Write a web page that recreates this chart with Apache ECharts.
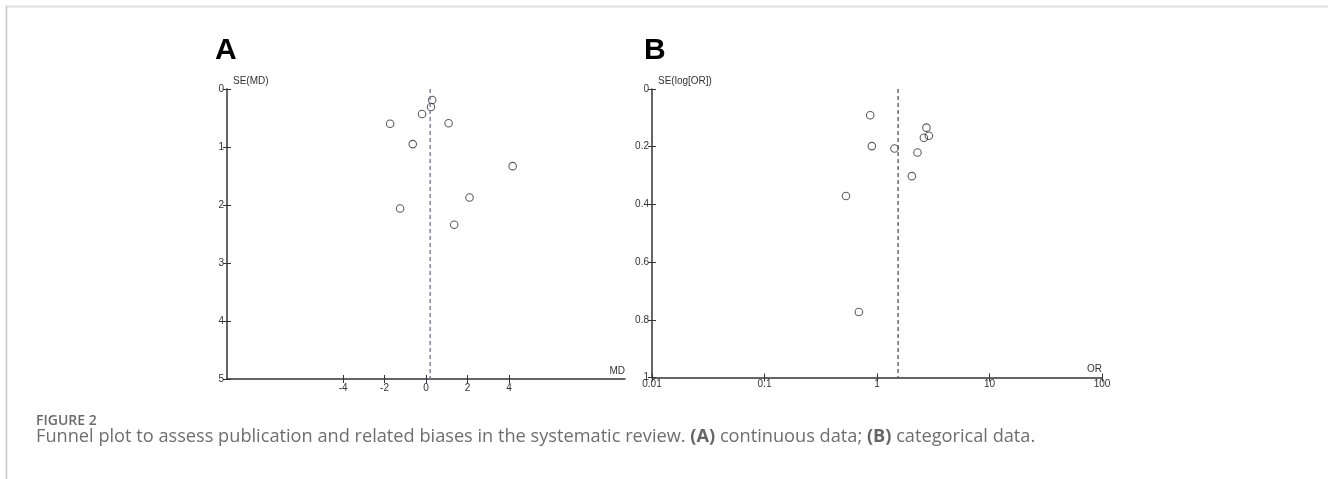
<!DOCTYPE html>
<html><head><meta charset="utf-8">
<script src="https://cdn.jsdelivr.net/npm/echarts@6/dist/echarts.min.js"></script>
<style>html,body{margin:0;padding:0;background:#fff}#c{width:1328px;height:479px}</style>
</head><body><div id="c"></div><script>
// Panel A: continuous data (MD vs SE(MD))
const mdValues = [0.30, 0.24, -0.19, -1.73, 1.09, -0.64, 4.18, 2.10, -1.25, 1.36];
const mdSE     = [0.19, 0.31, 0.43, 0.60, 0.59, 0.95, 1.33, 1.87, 2.06, 2.34];
const mdPooled = 0.2;
const mdTicks  = [-4, -2, 0, 2, 4];
const mdSETicks = [0, 1, 2, 3, 4, 5];
// Panel B: categorical data (OR vs SE(log[OR]))
const orValues = [0.87, 2.75, 2.89, 2.61, 0.90, 1.43, 2.29, 2.04, 0.53, 0.69];
const orSE     = [0.091, 0.134, 0.162, 0.169, 0.198, 0.206, 0.220, 0.302, 0.371, 0.773];
const orPooled = 1.54;
const orTicks  = ['0.01', '0.1', '1', '10', '100'];
const orSETicks = ['0', '0.2', '0.4', '0.6', '0.8', '1'];

const FONT = '"Liberation Sans", Arial, sans-serif';
const axisCol = '#333';
const lbl = {fontFamily: FONT, fontSize: 10, color: '#333'};

function yMain(grid, max, interval, name, fmt) {
  return {
    type: 'value', gridIndex: grid, inverse: true, min: 0, max: max, interval: interval, position: 'left',
    name: name, nameLocation: 'start', nameGap: 3,
    nameTextStyle: {fontFamily: FONT, fontSize: 10, color: '#333', align: 'left', verticalAlign: 'bottom', padding: [0, 0, 0, 6]},
    axisLine: {show: true, onZero: false, lineStyle: {color: axisCol, width: 1.5}},
    axisTick: {show: true, length: 4, lineStyle: {color: axisCol}},
    axisLabel: Object.assign({margin: 3, formatter: fmt}, lbl),
    splitLine: {show: false}
  };
}
function yDup(grid, max, interval) {
  return {
    type: 'value', gridIndex: grid, inverse: true, min: 0, max: max, interval: interval, position: 'left',
    axisLine: {show: false, onZero: false}, axisTick: {show: true, inside: true, length: 4, lineStyle: {color: axisCol}},
    axisLabel: {show: false}, splitLine: {show: false}
  };
}

const option = {
  animation: false,
  backgroundColor: '#fff',
  grid: [
    {left: 227, top: 89, width: 398, height: 290},
    {left: 652, top: 89, width: 450, height: 288.5}
  ],
  xAxis: [
    {
      type: 'value', gridIndex: 0, min: -9.6, max: 9.6, position: 'bottom',
      name: 'MD', nameLocation: 'end', nameGap: 0,
      nameTextStyle: {fontFamily: FONT, fontSize: 10, color: '#333', align: 'right', verticalAlign: 'bottom', padding: [0, 0, 3, 0]},
      axisLine: {show: true, onZero: false, lineStyle: {color: axisCol, width: 1.5}},
      axisTick: {show: true, length: 4, customValues: mdTicks, lineStyle: {color: axisCol}},
      axisLabel: Object.assign({margin: 4, customValues: mdTicks}, lbl),
      splitLine: {show: false}
    },
    {
      type: 'value', gridIndex: 0, min: -9.6, max: 9.6, position: 'bottom',
      axisLine: {show: false, onZero: false},
      axisTick: {show: true, inside: true, length: 4, customValues: mdTicks, lineStyle: {color: axisCol}},
      axisLabel: {show: false, customValues: mdTicks}, splitLine: {show: false}
    },
    {
      type: 'log', logBase: 10, gridIndex: 1, min: 0.01, max: 100, position: 'bottom',
      name: 'OR', nameLocation: 'end', nameGap: 0,
      nameTextStyle: {fontFamily: FONT, fontSize: 10, color: '#333', align: 'right', verticalAlign: 'bottom', padding: [0, 0, 3, 0]},
      axisLine: {show: true, onZero: false, lineStyle: {color: axisCol, width: 1.5}},
      axisTick: {show: true, length: 4, lineStyle: {color: axisCol}},
      axisLabel: Object.assign({margin: 2, formatter: function (v) {
        const k = Math.round(Math.log10(v)) + 2; return orTicks[k] !== undefined ? orTicks[k] : '';
      }}, lbl),
      splitLine: {show: false}, minorTick: {show: false}
    },
    {
      type: 'log', logBase: 10, gridIndex: 1, min: 0.01, max: 100, position: 'bottom',
      axisLine: {show: false, onZero: false},
      axisTick: {show: true, inside: true, length: 4, lineStyle: {color: axisCol}},
      axisLabel: {show: false}, splitLine: {show: false}
    }
  ],
  yAxis: [
    yMain(0, 5, 1, 'SE(MD)', function (v) { return String(mdSETicks[Math.round(v)]); }),
    yDup(0, 5, 1),
    yMain(1, 1, 0.2, 'SE(log[OR])', function (v) { return orSETicks[Math.round(v * 5)]; }),
    yDup(1, 1, 0.2)
  ],
  series: [
    {
      type: 'line', xAxisIndex: 0, yAxisIndex: 0, symbol: 'none', silent: true,
      data: [[mdPooled, 0], [mdPooled, mdSETicks[mdSETicks.length - 1]]],
      lineStyle: {type: [4, 3], color: '#7a7a98', width: 1.4}
    },
    {
      type: 'scatter', xAxisIndex: 0, yAxisIndex: 0, symbol: 'circle', symbolSize: 7.5,
      data: mdValues.map(function (v, i) { return [v, mdSE[i]]; }),
      itemStyle: {color: 'rgba(255,255,255,0)', borderColor: '#333', borderWidth: 1.1}
    },
    {
      type: 'line', xAxisIndex: 2, yAxisIndex: 2, symbol: 'none', silent: true,
      data: [[orPooled, 0], [orPooled, 1]],
      lineStyle: {type: [4, 3], color: '#444', width: 1.2}
    },
    {
      type: 'scatter', xAxisIndex: 2, yAxisIndex: 2, symbol: 'circle', symbolSize: 7.5,
      data: orValues.map(function (v, i) { return [v, orSE[i]]; }),
      itemStyle: {color: 'rgba(255,255,255,0)', borderColor: '#333', borderWidth: 1.1}
    }
  ],
  graphic: [
    {type: 'line', shape: {x1: 6, y1: 6.5, x2: 1328, y2: 6.5}, style: {stroke: '#e0e0e0', lineWidth: 2}},
    {type: 'line', shape: {x1: 6.5, y1: 6, x2: 6.5, y2: 479}, style: {stroke: '#c8c8c8', lineWidth: 1.5}},
    {type: 'text', left: 215, top: 36, style: {text: 'A', font: 'bold 30px "Liberation Sans", Arial', fill: '#000'}},
    {type: 'text', left: 644, top: 36, style: {text: 'B', font: 'bold 30px "Liberation Sans", Arial', fill: '#000'}},
    {type: 'text', left: 36, top: 414, style: {text: 'FIGURE 2', font: '600 14px "Open Sans"', fill: '#6a6a6a'}},
    {type: 'text', left: 36, top: 428, style: {
      text: '{n|Funnel plot to assess publication and related biases in the systematic review. }{b|(A)}{n| continuous data; }{b|(B)}{n| categorical data.}',
      rich: {
        n: {fontFamily: '"Open Sans"', fontSize: 18.2, fill: '#6e6e6e', color: '#6e6e6e'},
        b: {fontFamily: '"Open Sans"', fontSize: 18.2, fontWeight: 'bold', fill: '#666', color: '#666'}
      }
    }}
  ]
};
const chart = echarts.init(document.getElementById('c'), null, {renderer: 'canvas'});
chart.setOption(option);
</script></body></html>
